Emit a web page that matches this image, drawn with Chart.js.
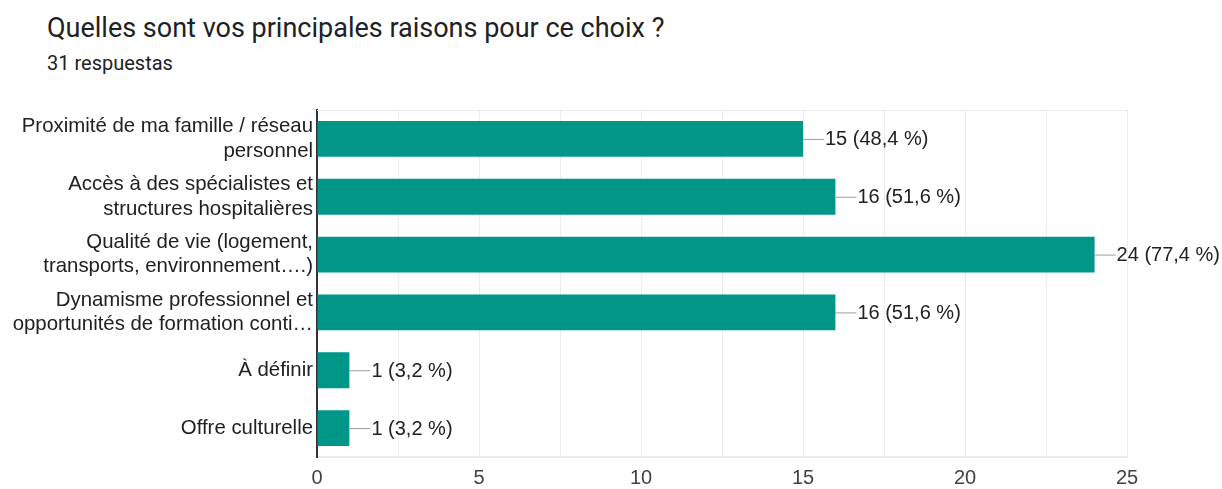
<!DOCTYPE html>
<html>
<head>
<meta charset="utf-8">
<script src="https://cdn.jsdelivr.net/npm/chart.js@4"></script>
<style>
  body { margin: 0; background: #fff; }
  #wrap { position: relative; width: 1222px; height: 489px; }
  #title { position: absolute; left: 47px; top: 12px; font: 27px Roboto, sans-serif; color: #202124; }
  #sub { position: absolute; left: 47px; top: 51px; font: 20px Roboto, sans-serif; color: #202124; }
  canvas { position: absolute; left: 0; top: 0; }
</style>
</head>
<body>
<div id="wrap">
  <div id="title">Quelles sont vos principales raisons pour ce choix ?</div>
  <div id="sub">31 respuestas</div>
  <canvas id="chart" width="1222" height="489"></canvas>
</div>
<script>
const categories = [
    ["Proximité de ma famille / réseau", "personnel"],
    ["Accès à des spécialistes et", "structures hospitalières"],
    ["Qualité de vie (logement,", "transports, environnement….)"],
    ["Dynamisme professionnel et", "opportunités de formation conti…"],
    "À définir",
    "Offre culturelle"
]
const counts = [15, 16, 24, 16, 1, 1]
const percents = ["48,4", "51,6", "77,4", "51,6", "3,2", "3,2"]
const xTicks = [0, 5, 10, 15, 20, 25]

// connector line + "n (p %)" label after each bar
const barLabels = {
    id: "barLabels",
    afterDatasetsDraw(chart) {
        const ctx = chart.ctx
        const meta = chart.getDatasetMeta(0)
        ctx.save()
        ctx.font = "20px 'Liberation Sans', Arial, sans-serif"
        ctx.textBaseline = "middle"
        meta.data.forEach((bar, i) => {
            const x = bar.x
            const y = bar.y
            ctx.strokeStyle = "#9e9e9e"
            ctx.lineWidth = 1
            ctx.beginPath()
            ctx.moveTo(x, y + 0.5)
            ctx.lineTo(x + 21, y + 0.5)
            ctx.stroke()
            ctx.fillStyle = "#212121"
            ctx.fillText(counts[i] + " (" + percents[i] + " %)", x + 22, y + 1)
        })
        // top border of the plot
        const a = chart.chartArea
        ctx.strokeStyle = "#ebebeb"
        ctx.beginPath()
        ctx.moveTo(a.left, a.top + 0.5)
        ctx.lineTo(a.right, a.top + 0.5)
        ctx.stroke()
        ctx.restore()
    }
}

new Chart(document.getElementById("chart"), {
    type: "bar",
    data: {
        labels: categories,
        datasets: [{
            data: counts,
            backgroundColor: "#009688",
            barPercentage: 0.62,
            categoryPercentage: 1
        }]
    },
    options: {
        indexAxis: "y",
        responsive: false,
        animation: false,
        layout: { padding: { left: 0, top: 110, right: 95, bottom: 0 } },
        plugins: { legend: { display: false }, tooltip: { enabled: false } },
        scales: {
            x: {
                min: 0,
                max: 25,
                afterFit: s => { s.height = 32 },
                ticks: {
                    stepSize: 2.5,
                    autoSkip: false,
                    maxRotation: 0,
                    padding: 9,
                    color: "#424242",
                    font: { family: "'Liberation Sans', Arial, sans-serif", size: 20 },
                    callback: v => xTicks.includes(v) ? String(v) : ""
                },
                grid: { color: "#ebebeb", drawTicks: false },
                border: { color: "#ebebeb", width: 2 }
            },
            y: {
                afterFit: s => { s.width = 317 },
                ticks: {
                    padding: 4,
                    color: "#212121",
                    font: { family: "'Liberation Sans', Arial, sans-serif", size: 20.4, lineHeight: 1.2 }
                },
                grid: { display: false, drawTicks: false },
                border: { color: "#333333", width: 2 }
            }
        }
    },
    plugins: [barLabels]
})
</script>
</body>
</html>
